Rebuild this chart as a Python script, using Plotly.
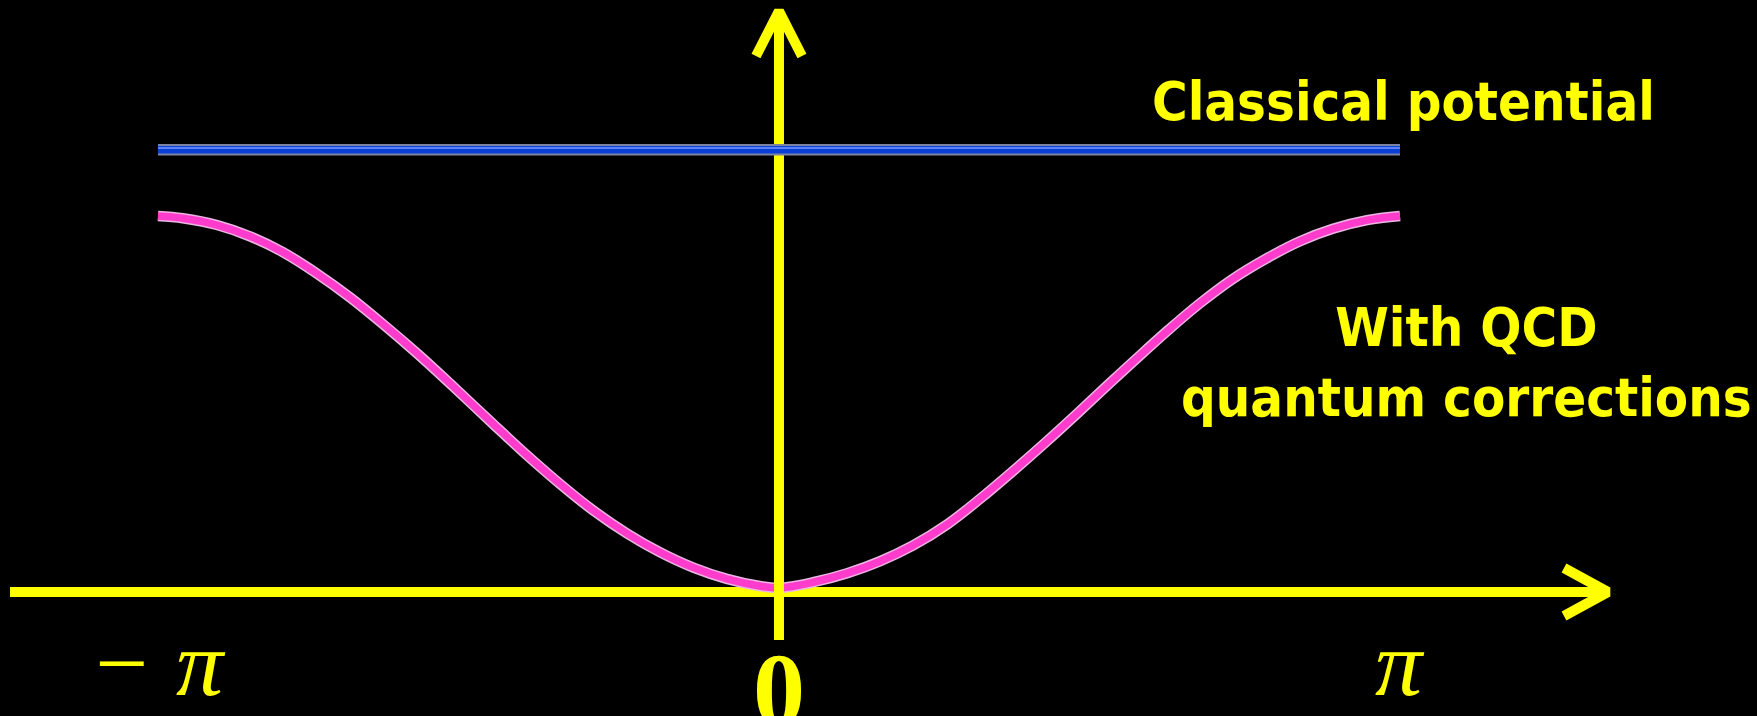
import plotly.graph_objects as go

# ---- data (x in units of pi, potential in arbitrary units; 0 = axis line) ----
qcd_theta = [-1.000, -0.960, -0.905, -0.852, -0.799, -0.744, -0.691, -0.638, -0.583, -0.530,
             -0.461, -0.406, -0.353, -0.300, -0.245, -0.192, -0.138, -0.084, -0.031, 0.000,
             0.055, 0.110, 0.163, 0.216, 0.271, 0.324, 0.377, 0.432, 0.485, 0.533,
             0.570, 0.625, 0.678, 0.731, 0.786, 0.839, 0.892, 0.947, 1.000]
qcd_potential = [1.000, 0.994, 0.976, 0.946, 0.904, 0.847, 0.784, 0.713, 0.635, 0.555,
                 0.448, 0.364, 0.288, 0.218, 0.156, 0.106, 0.065, 0.035, 0.016, 0.011,
                 0.026, 0.050, 0.082, 0.124, 0.180, 0.248, 0.322, 0.402, 0.482, 0.556,
                 0.612, 0.694, 0.768, 0.833, 0.888, 0.933, 0.966, 0.989, 1.000]
classical_theta = [-1.0, 1.0]
classical_potential = [1.176, 1.176]
tick_vals = [-1, 0, 1]
tick_text = ["<i>\u2212 \u03c0</i>", "<b>0</b>", "<i>\u03c0</i>"]
label_classical = "Classical potential"
label_qcd = "With QCD<br>quantum corrections"

# ---- layout constants ----
W, H = 1757, 716
X_RANGE = [-1.2544, 1.5749]
Y_RANGE = [-0.3298, 1.5745]
YELLOW = "#ffff00"
AX_W = 10
x_axis_start, x_axis_tip = -1.2383, 1.3349
arrow_len_x, arrow_half_x = 0.0708, 0.0638
y_axis_bottom, y_axis_tip = -0.1277, 1.5452
arrow_len_y, arrow_half_y = 0.1197, 0.037

fig = go.Figure()

# x axis with chevron arrow head
fig.add_trace(go.Scatter(x=[x_axis_start, x_axis_tip - 0.004], y=[0, 0], mode="lines",
                         line=dict(color=YELLOW, width=AX_W), hoverinfo="skip"))
fig.add_trace(go.Scatter(x=[x_axis_tip - arrow_len_x, x_axis_tip, x_axis_tip - arrow_len_x],
                         y=[arrow_half_x, 0, -arrow_half_x], mode="lines",
                         line=dict(color=YELLOW, width=AX_W), hoverinfo="skip"))

# QCD potential (pink)
fig.add_trace(go.Scatter(x=qcd_theta, y=qcd_potential, mode="lines",
                         line=dict(color="#eab6e2", width=10.5, shape="spline", smoothing=1.0),
                         hoverinfo="skip"))
fig.add_trace(go.Scatter(x=qcd_theta, y=qcd_potential, mode="lines",
                         line=dict(color="#ff3ccc", width=7.5, shape="spline", smoothing=1.0),
                         hoverinfo="skip"))

# y axis with arrow head
fig.add_trace(go.Scatter(x=[0, 0], y=[y_axis_bottom, y_axis_tip - 0.01], mode="lines",
                         line=dict(color=YELLOW, width=AX_W), hoverinfo="skip"))
fig.add_trace(go.Scatter(x=[-arrow_half_y, 0, arrow_half_y],
                         y=[y_axis_tip - arrow_len_y, y_axis_tip, y_axis_tip - arrow_len_y],
                         mode="lines", line=dict(color=YELLOW, width=AX_W), hoverinfo="skip"))

# classical potential (blue)
fig.add_trace(go.Scatter(x=classical_theta, y=classical_potential, mode="lines",
                         line=dict(color="#7c84a4", width=11.5), hoverinfo="skip"))
fig.add_trace(go.Scatter(x=classical_theta, y=classical_potential, mode="lines",
                         line=dict(color="#0a3fd6", width=7.5), hoverinfo="skip"))
fig.add_trace(go.Scatter(x=classical_theta, y=[v + 0.005 for v in classical_potential], mode="lines",
                         line=dict(color="#5a82f2", width=2), hoverinfo="skip"))

# tick labels
tick_fonts = [dict(family="Liberation Serif", size=94, color=YELLOW),
              dict(family="Liberation Serif", size=104, color=YELLOW),
              dict(family="Liberation Serif", size=94, color=YELLOW)]
tick_y = [1 - 663 / H, 1 - 689 / H, 1 - 663 / H]
for v, t, f, yy in zip(tick_vals, tick_text, tick_fonts, tick_y):
    fig.add_annotation(x=v, xref="x", y=yy, yref="paper", text=t, showarrow=False,
                       font=f, xanchor="center", yanchor="middle")

txt_font = dict(family="DejaVu Sans Condensed, Liberation Sans Narrow, Open Sans", size=54,
                color=YELLOW, weight="bold")
fig.add_annotation(x=1403 / W, xref="paper", y=1 - 101 / H, yref="paper", text=label_classical,
                   showarrow=False, font=txt_font, xanchor="center", yanchor="middle")
fig.add_annotation(x=1466 / W, xref="paper", y=1 - 362 / H, yref="paper", text=label_qcd,
                   showarrow=False, font=txt_font, xanchor="center", yanchor="middle", align="center")

fig.update_layout(
    width=W, height=H, margin=dict(l=0, r=0, t=0, b=0),
    paper_bgcolor="black", plot_bgcolor="black", showlegend=False,
    xaxis=dict(range=X_RANGE, visible=False, fixedrange=True),
    yaxis=dict(range=Y_RANGE, visible=False, fixedrange=True),
)
fig.write_html("out.html", config={"displayModeBar": False},
               post_script="document.body.style.margin='0';document.body.style.padding='0';"
                           "document.body.style.background='black';document.body.style.overflow='hidden';")
